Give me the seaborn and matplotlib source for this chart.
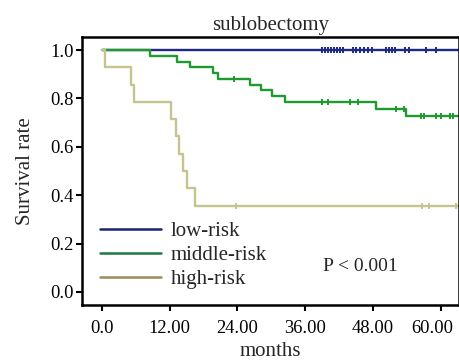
import numpy as np
import pandas as pd
import matplotlib
matplotlib.use("Agg")
import matplotlib.pyplot as plt
import matplotlib.transforms as mtransforms
from matplotlib.lines import Line2D
import seaborn as sns

# Kaplan-Meier step curves (months, survival)
low_t = [0.0, 63.5]
low_s = [1.0, 1.0]
low_cens = [38.9, 39.5, 40.0, 40.5, 41.1, 41.6, 42.1, 42.7, 44.4, 45.0, 45.7,
            46.4, 47.1, 47.8, 50.3, 50.8, 51.3, 51.9, 53.6, 54.3, 57.3, 59.1]

mid_t = [0.0, 8.5, 13.3, 15.6, 19.7, 20.6, 26.2, 28.1, 30.2, 32.4, 48.5, 53.9, 63.5]
mid_s = [1.0, 0.976, 0.952, 0.929, 0.905, 0.881, 0.857, 0.833, 0.810, 0.786,
         0.758, 0.727, 0.727]
mid_cens = [23.4, 39.0, 40.0, 43.9, 45.3, 52.0, 53.4, 56.5, 57.0, 59.2, 60.1,
            61.6, 62.1]

high_t = [0.0, 0.5, 5.1, 5.7, 12.2, 13.2, 13.7, 14.4, 15.0, 16.5, 63.5]
high_s = [1.0, 0.929, 0.857, 0.786, 0.714, 0.643, 0.571, 0.500, 0.429, 0.357, 0.357]
high_cens = [23.7, 56.6, 57.9, 62.7]

groups = ["low-risk", "middle-risk", "high-risk"]
line_colors = ["#1c2a86", "#1f9a2e", "#c4c48e"]
legend_colors = ["#1c2270", "#1d7a42", "#a08a56"]

curves = pd.concat([
    pd.DataFrame({"months": low_t, "surv": low_s, "group": "low-risk"}),
    pd.DataFrame({"months": mid_t, "surv": mid_s, "group": "middle-risk"}),
    pd.DataFrame({"months": high_t, "surv": high_s, "group": "high-risk"}),
])

def cens_df(t, s, c, name):
    idx = np.searchsorted(t, c, side="right") - 1
    return pd.DataFrame({"months": c, "surv": np.array(s)[idx], "group": name})

cens = pd.concat([
    cens_df(low_t, low_s, low_cens, "low-risk"),
    cens_df(mid_t, mid_s, mid_cens, "middle-risk"),
    cens_df(high_t, high_s, high_cens, "high-risk"),
])

sns.set_style("white")
plt.rcParams["font.family"] = ["Liberation Serif", "DejaVu Serif"]

fig, ax = plt.subplots(figsize=(4.6, 3.62), dpi=100)
fig.subplots_adjust(left=82/460, right=459/460, top=1-37/362, bottom=1-305/362)

pal = dict(zip(groups, line_colors))
sns.lineplot(data=curves, x="months", y="surv", hue="group", palette=pal,
             drawstyle="steps-post", estimator=None, sort=False,
             linewidth=1.7, legend=False, ax=ax)
for g in groups:
    d = cens[cens.group == g]
    ax.plot(d.months, d.surv, linestyle="none", marker="|", markersize=5,
            markeredgewidth=1.4, color=pal[g])

ax.set_xlim(-3.5, 63.2)
ax.set_ylim(-0.054, 1.054)
ax.set_xticks([0, 12, 24, 36, 48, 60])
ax.set_xticklabels(["0.0", "12.00", "24.00", "36.00", "48.00", "60.00"])
ax.set_yticks([0, 0.2, 0.4, 0.6, 0.8, 1.0])
ax.set_yticklabels(["0.0", "0.2", "0.4", "0.6", "0.8", "1.0"])
ax.tick_params(direction="out", length=4, width=1.5, labelsize=13.3,
               bottom=True, left=True, colors="black")
ax.tick_params(axis="x", pad=7)
ax.tick_params(axis="y", pad=2)
for sp in ax.spines.values():
    sp.set_linewidth(1.8)
    sp.set_color("black")

# last x label sits a bit left of its tick so it stays inside the figure
last = ax.get_xticklabels()[-1]
last.set_transform(last.get_transform() +
                   mtransforms.ScaledTranslation(-9/100, 0, fig.dpi_scale_trans))

ax.set_xlabel("months", fontsize=15, labelpad=3.5)
ax.set_ylabel("Survival rate", fontsize=15, labelpad=11)
ax.set_title("sublobectomy", fontsize=15, pad=5)

handles = [Line2D([], [], color=c, linewidth=1.8) for c in legend_colors]
ax.legend(handles, groups, loc="lower left", bbox_to_anchor=(0.048, 0.06),
          frameon=False, fontsize=15, handlelength=2.9, handletextpad=0.5,
          labelspacing=0.2, borderpad=0, borderaxespad=0)

ax.text(45.7, 0.105, "P < 0.001", fontsize=14, ha="center", va="center")

fig.savefig("out.png", dpi=100)
